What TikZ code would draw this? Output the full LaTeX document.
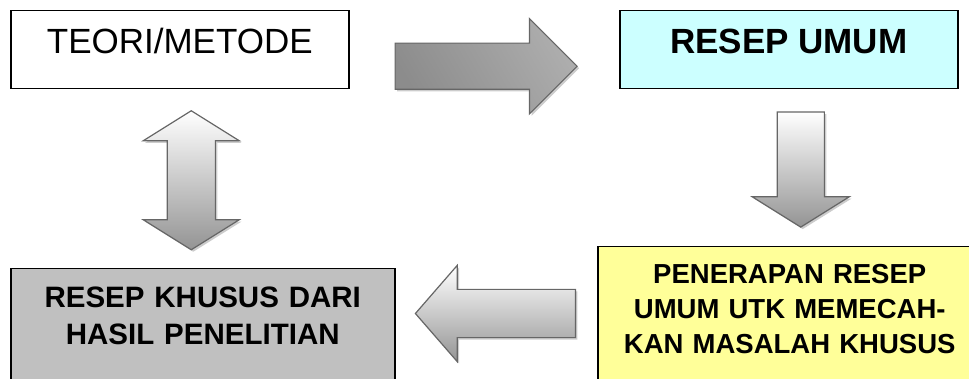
\documentclass[tikz,border=0pt]{standalone}
\usepackage{fontspec}
\setmainfont{Liberation Sans}
\usepackage{tikz}
\usetikzlibrary{calc,shapes.arrows,shadows}
\definecolor[named]{myColorUmum}{RGB}{204,255,255}
\definecolor[named]{myColorTerap}{RGB}{255,255,153}
\definecolor[named]{myColorKhusus}{RGB}{192,192,192}

\begin{document}
\begin{tikzpicture}
[%
    x=1pt, y=-1pt,
    box/.style={
      rectangle,
      draw=black,
      line width=1.5pt,
      inner sep=0pt,
      anchor=north west
    },
    topbox/.style={
      box,
      minimum width=338pt,
      text height=43pt,
      text depth=35pt,
      font=\fontsize{35}{42}\selectfont
    },
    lowbox/.style={
      box,
      text width=384pt,
      align=center,
      text depth=150pt
    },
    blockarrow/.style={
      draw=black!60,
      line width=1.2pt,
      minimum width=0pt,
      drop shadow={shadow xshift=2pt, shadow yshift=-2pt, fill=black!20, opacity=1}
    },
    lightarrow/.style={
      blockarrow,
      top color=white,
      bottom color=black!42
    }
  ]
  \useasboundingbox (0,0) rectangle (969,379);
  \clip (0,0) rectangle (969,379);

  %boxes
  \node[topbox] (teori) at (10,10) {TEORI/METODE};
  \node[topbox, fill=myColorUmum, font=\bfseries\fontsize{35}{42}\selectfont] (umum) at (619,10) {RESEP UMUM};
  \node[lowbox, fill=myColorTerap, text height=37pt, font=\bfseries\fontsize{27.5}{35}\selectfont] (terap) at (597,246)
    {PENERAPAN RESEP\\UMUM UTK MEMECAH-\\KAN MASALAH KHUSUS};
  \node[lowbox, fill=myColorKhusus, text height=38.5pt, font=\bfseries\fontsize{29.5}{37.5}\selectfont] (khusus) at (10,268)
    {RESEP KHUSUS DARI\\HASIL PENELITIAN};

  %arrows
  \node[blockarrow, single arrow, anchor=tail, inner sep=22.5pt, minimum height=182pt,
    single arrow head extend=24.5pt, single arrow tip angle=90,
    left color=black!45, middle color=black!17, right color=black!32, shading angle=120]
    (keumum) at ($(teori.east)+(45,16.5)$) {};
  \node[lightarrow, single arrow, anchor=tail, shape border rotate=270, inner sep=23pt, minimum height=115pt,
    single arrow head extend=25pt, single arrow tip angle=116]
    (keterap) at ($(umum.south)+(12,22)$) {};
  \node[lightarrow, single arrow, anchor=tail, shape border rotate=180, inner sep=23.5pt, minimum height=160pt,
    single arrow head extend=24pt, single arrow tip angle=98]
    (kekhusus) at ($(terap.north west)+(-21,67.5)$) {};
  \node[lightarrow, double arrow, shape border rotate=90, inner sep=23.5pt, minimum height=139pt,
    double arrow head extend=24pt, double arrow tip angle=116]
    (teorikhusus) at ($(teori.south)!0.5!(khusus.north)+(0,1.5)$) {};

\end{tikzpicture}
\end{document}
